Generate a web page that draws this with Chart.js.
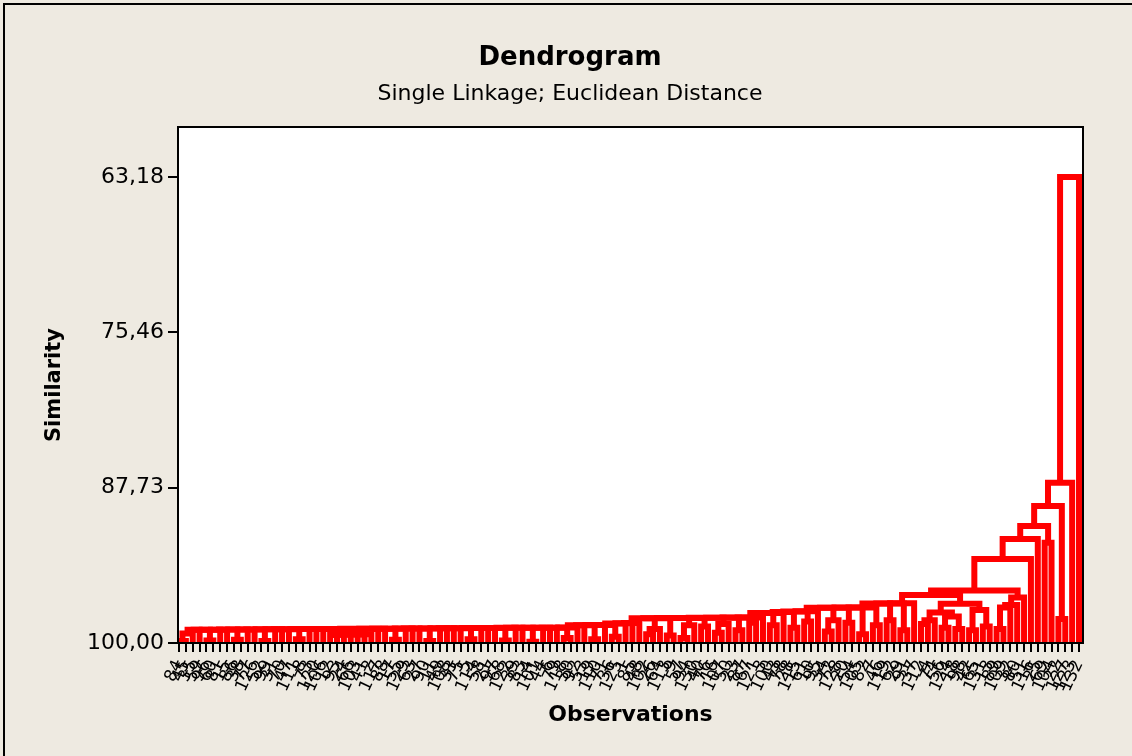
<!DOCTYPE html>
<html>
<head>
<meta charset="utf-8">
<title>Dendrogram</title>
<script src="https://cdn.jsdelivr.net/npm/chart.js@4.4.1/dist/chart.umd.min.js"></script>
<style>
    html, body { margin: 0; padding: 0; background: #eeeae1; overflow: hidden; }
    canvas { display: block; }
</style>
</head>
<body>
<canvas id="dendroChart" width="1132" height="756"></canvas>
<script>
// Observation numbers in leaf order (left to right)
const leafLabels = [
    84, 45, 35, 59, 96, 60, 81, 15, 86, 38, 77, 126,
    52, 99, 31, 70, 47, 111, 8, 73, 120, 106, 12, 93,
    24, 66, 103, 41, 2, 117, 88, 17, 55, 129, 63, 27,
    90, 11, 49, 108, 33, 75, 5, 114, 58, 21, 97, 68,
    122, 39, 83, 14, 101, 44, 6, 79, 118, 30, 92, 53,
    19, 110, 71, 36, 125, 1, 85, 48, 102, 26, 64, 113,
    9, 57, 94, 130, 40, 76, 16, 107, 50, 23, 87, 67,
    121, 3, 100, 43, 78, 28, 115, 61, 10, 95, 34, 72,
    128, 20, 54, 105, 82, 7, 46, 119, 62, 29, 91, 37,
    112, 4, 74, 56, 124, 18, 98, 42, 65, 131, 13, 89,
    109, 32, 80, 51, 116, 25, 69, 104, 22, 127, 123, 132
];

// Similarity level where leaf i and leaf i+1 first end up in the same cluster
const gapSimilarity = [
    // leaves 1-11
    99.85, 99.25, 98.96, 98.955, 99.8, 98.95, 98.945, 98.94, 99.75, 98.935,
    // 11-21
    98.93, 98.925, 99.85, 98.92, 98.915, 98.91, 98.905, 99.7, 98.9, 98.895,
    // 21-31
    98.89, 98.885, 99.36, 99.35, 99.34, 99.33, 99.32, 99.31, 98.88, 98.875,
    // 31-41
    98.87, 99.75, 98.865, 98.86, 98.855, 98.85, 99.85, 98.845, 98.84, 98.835,
    // 41-51
    98.83, 98.825, 99.7, 98.82, 98.815, 98.81, 98.805, 99.8, 98.8, 98.798,
    // 51-61
    98.796, 99.9, 98.794, 98.792, 98.79, 98.788, 99.6, 98.78, 98.6, 98.59,
    // 61-71
    99.7, 98.58, 98.57, 99.5, 98.45, 98.43, 98.42, 98.05, 99.3, 98.9,
    // 71-81
    98.04, 99.4, 98.03, 99.6, 98.6, 98.02, 98.7, 98.01, 99.2, 98.5,
    // 81-91
    98.0, 99.0, 97.99, 98.4, 97.98, 97.63, 98.6, 97.62, 97.55, 98.8,
    // 91-101
    97.51, 98.3, 97.5, 97.22, 99.1, 98.2, 97.21, 98.4, 97.2, 99.3,
    // 101-111
    97.19, 98.6, 96.88, 98.2, 96.87, 99.0, 96.86, 96.2, 98.5, 98.2,
    // 111-121
    97.6, 98.8, 97.9, 98.9, 96.9, 99.0, 97.4, 98.7, 95.86, 98.9,
    // 121-132
    97.2, 97.0, 96.4, 93.37, 91.79, 90.75, 92.07, 89.17, 98.11, 87.34, 63.18
];

const similarityTicks = [63.18, 75.46, 87.73, 100];

const FONT = 'DejaVu Sans';
const LINK_COLOR = '#ff0000';

// Build the tree: the weakest join inside a run of leaves splits it in two
const links = [];
function buildNode(lo, hi) {
    if (lo === hi) return { x: lo + 1, sim: 100 };
    let k = lo;
    for (let g = lo; g < hi; g++) {
        if (gapSimilarity[g] < gapSimilarity[k]) k = g;
    }
    const left = buildNode(lo, k);
    const right = buildNode(k + 1, hi);
    const sim = gapSimilarity[k];
    links.push([
        { x: left.x, y: left.sim },
        { x: left.x, y: sim },
        { x: right.x, y: sim },
        { x: right.x, y: right.sim }
    ]);
    return { x: (left.x + right.x) / 2, sim: sim };
}
buildNode(0, leafLabels.length - 1);

const datasets = links.map(pts => ({
    data: pts,
    borderColor: LINK_COLOR,
    borderWidth: 6,
    borderCapStyle: 'butt',
    borderJoinStyle: 'miter',
    pointRadius: 0,
    tension: 0,
    fill: false
}));

// White plot area, black frame, and the outer page border
const framePlugin = {
    id: 'frame',
    beforeDraw(chart) {
        const { ctx, chartArea: a } = chart;
        ctx.save();
        ctx.fillStyle = '#ffffff';
        ctx.fillRect(a.left, a.top, a.right - a.left, a.bottom - a.top);
        ctx.strokeStyle = '#000';
        ctx.lineWidth = 2;
        ctx.beginPath();
        ctx.moveTo(4, chart.height);
        ctx.lineTo(4, 4);
        ctx.lineTo(chart.width, 4);
        ctx.stroke();
        ctx.restore();
    },
    afterDatasetsDraw(chart) {
        const { ctx, chartArea: a } = chart;
        ctx.save();
        ctx.strokeStyle = '#000';
        ctx.lineWidth = 2;
        ctx.strokeRect(a.left, a.top, a.right - a.left, a.bottom - a.top);
        ctx.restore();
    }
};

new Chart(document.getElementById('dendroChart'), {
    type: 'line',
    data: { datasets: datasets },
    options: {
        responsive: false,
        animation: false,
        events: [],
        layout: { padding: { top: 0, left: 8, right: 0, bottom: 0 } },
        plugins: {
            legend: { display: false },
            tooltip: { enabled: false },
            title: {
                display: true,
                text: 'Dendrogram',
                color: '#000',
                font: { family: FONT, size: 26, weight: 'bold' },
                padding: { top: 43, bottom: 0 }
            },
            subtitle: {
                display: true,
                text: 'Single Linkage; Euclidean Distance',
                color: '#000',
                font: { family: FONT, size: 22 },
                padding: { top: 6.6, bottom: 19.8 }
            }
        },
        scales: {
            x: {
                type: 'linear',
                min: 0.855,
                max: leafLabels.length + 0.58,
                afterBuildTicks: scale => {
                    scale.ticks = leafLabels.map((_, i) => ({ value: i + 1 }));
                },
                afterFit: scale => { scale.height = 113; },
                grid: {
                    drawOnChartArea: false,
                    drawTicks: true,
                    tickLength: 9,
                    color: '#000',
                    lineWidth: 2
                },
                border: { display: true, color: '#000', width: 2 },
                ticks: {
                    autoSkip: false,
                    minRotation: 65,
                    maxRotation: 65,
                    padding: 5,
                    color: '#000',
                    font: { family: FONT, size: 17 },
                    callback: (value, index) => String(leafLabels[index])
                },
                title: {
                    display: true,
                    text: 'Observations',
                    color: '#000',
                    font: { family: FONT, size: 22, weight: 'bold' },
                    padding: { top: 0, bottom: 27.8 }
                }
            },
            y: {
                type: 'linear',
                reverse: true,
                min: 59.23,
                max: 100,
                afterBuildTicks: scale => {
                    scale.ticks = similarityTicks.map(v => ({ value: v }));
                },
                afterFit: scale => { scale.width = 170; },
                grid: {
                    drawOnChartArea: false,
                    drawTicks: true,
                    tickLength: 10,
                    color: '#000',
                    lineWidth: 2
                },
                border: { display: true, color: '#000', width: 2 },
                ticks: {
                    padding: 4,
                    color: '#000',
                    font: { family: FONT, size: 22 },
                    callback: value => value.toFixed(2).replace('.', ',')
                },
                title: {
                    display: true,
                    text: 'Similarity',
                    color: '#000',
                    font: { family: FONT, size: 21, weight: 'bold' },
                    padding: { top: 34, bottom: 0 }
                }
            },
            // empty axis that keeps the margin to the right of the plot
            yRight: {
                type: 'linear',
                position: 'right',
                afterFit: scale => { scale.width = 49; },
                grid: { display: false },
                border: { display: false },
                ticks: { display: false }
            }
        }
    },
    plugins: [framePlugin]
});
</script>
</body>
</html>
